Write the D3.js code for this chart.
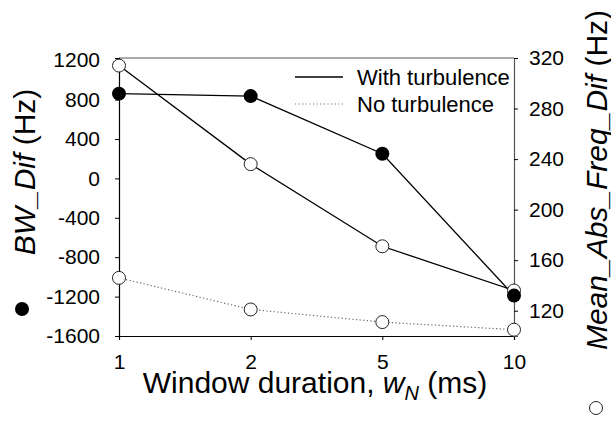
<!DOCTYPE html>
<html>
<head>
<meta charset="utf-8">
<script src="https://cdn.jsdelivr.net/npm/d3@7"></script>
<style>
    body { margin: 0; background: #fff; }
    svg text { font-family: Arial, "Liberation Sans", sans-serif; fill: #000; }
</style>
</head>
<body>
<div id="chart"></div>
<script>
// window durations (categorical x axis)
const windows = ["1", "2", "5", "10"];
// BW_Dif (Hz), left axis, with turbulence
const bwDif = [860, 835, 250, -1190];
// Mean_Abs_Freq_Dif (Hz), right axis
const freqDifTurb = [314, 236, 171, 136];
const freqDifNoTurb = [146, 121, 111, 105];
const leftTicks = [-1600, -1200, -800, -400, 0, 400, 800, 1200];
const rightTicks = [120, 160, 200, 240, 280, 320];
const legendLabels = ["With turbulence", "No turbulence"];

let width = 611, height = 424;
let margin = {top: 58, right: 97, bottom: 88, left: 119};
let w = width - margin.left - margin.right;
let h = height - margin.top - margin.bottom;

let svg = d3.select("#chart").append("svg")
    .attr("width", width)
    .attr("height", height);

let g = svg.append("g")
    .attr("transform", `translate(${margin.left}, ${margin.top})`);

// scales
let x = d3.scalePoint()
    .domain(windows)
    .range([0, w]);

let yLeft = d3.scaleLinear()
    .domain([-1600, 1222])
    .range([h, 0]);

let yRight = d3.scaleLinear()
    .domain([100, 320])
    .range([h, 0]);

// frame top line
g.append("line").attr("x1", 0).attr("x2", w).attr("y1", 0).attr("y2", 0)
    .attr("stroke", "#555").attr("stroke-width", 1);

// axes
let fontSize = "21px";

let xAxis = g.append("g")
    .attr("transform", `translate(0, ${h})`)
    .call(d3.axisBottom(x).tickSize(4).tickPadding(14));

let yAxisL = g.append("g")
    .call(d3.axisLeft(yLeft).tickValues(leftTicks).tickSize(4).tickPadding(15).tickFormat(d3.format("d")));

let yAxisR = g.append("g")
    .attr("transform", `translate(${w}, 0)`)
    .call(d3.axisRight(yRight).tickValues(rightTicks).tickSize(4).tickPadding(11));

[xAxis, yAxisL, yAxisR].forEach(a => {
    a.attr("font-size", null).attr("font-family", null);
    a.select(".domain").attr("stroke", "#000").attr("stroke-width", 1.2);
    a.selectAll(".tick line").attr("stroke", "#000");
    a.selectAll("text")
        .style("font-size", fontSize)
        .attr("fill", "#000");
});
yAxisR.select(".domain").attr("stroke", "#555");
yAxisL.selectAll("text").text(d => d < 0 ? "-" + Math.abs(d) : d);

// lines
let line = (scale) => d3.line()
    .x((d, i) => x(windows[i]))
    .y(d => scale(d));

g.append("path")
    .datum(freqDifNoTurb)
    .attr("fill", "none")
    .attr("stroke", "#666")
    .attr("stroke-width", 1.2)
    .attr("stroke-dasharray", "1.2,2.4")
    .attr("d", line(yRight));

g.append("path")
    .datum(freqDifTurb)
    .attr("fill", "none")
    .attr("stroke", "#000")
    .attr("stroke-width", 1.3)
    .attr("d", line(yRight));

g.append("path")
    .datum(bwDif)
    .attr("fill", "none")
    .attr("stroke", "#000")
    .attr("stroke-width", 1.3)
    .attr("d", line(yLeft));

// open circles (right axis)
[freqDifNoTurb, freqDifTurb].forEach(series => {
    g.selectAll(null)
        .data(series)
        .enter().append("circle")
        .attr("cx", (d, i) => x(windows[i]))
        .attr("cy", d => yRight(d))
        .attr("r", 6.5)
        .attr("fill", "#fff")
        .attr("stroke", "#222")
        .attr("stroke-width", 1);
});

// filled circles (left axis)
g.selectAll(null)
    .data(bwDif)
    .enter().append("circle")
    .attr("cx", (d, i) => x(windows[i]))
    .attr("cy", d => yLeft(d))
    .attr("r", 7)
    .attr("fill", "#000");

// legend
let legend = svg.append("g").attr("transform", "translate(295, 77)");
legendLabels.forEach((lab, i) => {
    legend.append("line")
        .attr("x1", 0).attr("x2", 48)
        .attr("y1", i * 27).attr("y2", i * 27)
        .attr("stroke", i === 0 ? "#000" : "#777")
        .attr("stroke-width", i === 0 ? 1.3 : 1.2)
        .attr("stroke-dasharray", i === 0 ? null : "1.2,2.4");
    legend.append("text")
        .attr("x", 62)
        .attr("y", i * 27)
        .attr("dy", "0.36em")
        .style("font-size", "22px")
        .text(lab);
});

// x axis title
let xt = svg.append("text")
    .attr("x", 315)
    .attr("y", 393)
    .attr("text-anchor", "middle")
    .style("font-size", "30px");
xt.append("tspan").text("Window duration, ");
xt.append("tspan").style("font-style", "italic").text("w");
xt.append("tspan").style("font-style", "italic").style("font-size", "20px").attr("dy", 7).text("N");
xt.append("tspan").attr("dy", -7).text(" (ms)");

// left y title
let yl = svg.append("text")
    .attr("transform", "translate(35, 172) rotate(-90)")
    .attr("text-anchor", "middle")
    .style("font-size", "30px");
yl.append("tspan").style("font-style", "italic").text("BW_Dif");
yl.append("tspan").text(" (Hz)");

svg.append("circle")
    .attr("cx", 22).attr("cy", 309).attr("r", 7)
    .attr("fill", "#000");

// right y title (clipped by the page edge, as in the original)
let yr = svg.append("text")
    .attr("transform", "translate(607, 180) rotate(-90)")
    .attr("text-anchor", "middle")
    .style("font-size", "30px");
yr.append("tspan").style("font-style", "italic").text("Mean_Abs_Freq_Dif");
yr.append("tspan").text(" (Hz)");

svg.append("circle")
    .attr("cx", 596).attr("cy", 408).attr("r", 6.5)
    .attr("fill", "#fff")
    .attr("stroke", "#222")
    .attr("stroke-width", 1);
</script>
</body>
</html>
